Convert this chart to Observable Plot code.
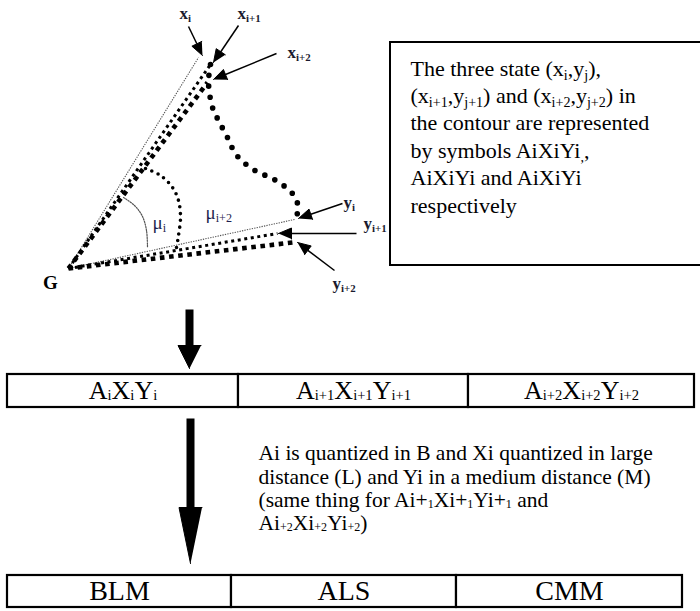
<!DOCTYPE html>
<html>
<head>
<meta charset="utf-8">
<script src="https://cdn.jsdelivr.net/npm/d3@7"></script>
<script src="https://cdn.jsdelivr.net/npm/@observablehq/plot@0.6"></script>
<style>
  html, body { margin: 0; padding: 0; background: #fff; }
  #chart svg { display: block; }
</style>
</head>
<body>
<div id="chart"></div>
<script>
// ---------------- data ----------------
// the centre of gravity from which the rays start
const origin = [{ label: "G", x: 68, y: 268 }];

// end points of the rays drawn from G (weight = line pattern)
const rayEnds = [
  { name: "x_{i}",   x: 198, y: 57,  weight: "thin" },
  { name: "x_{i+1}", x: 210, y: 64,  weight: "medium" },
  { name: "x_{i+2}", x: 207, y: 82,  weight: "bold" },
  { name: "y_{i}",   x: 294, y: 219, weight: "thin" },
  { name: "y_{i+1}", x: 277, y: 233, weight: "medium" },
  { name: "y_{i+2}", x: 292, y: 242, weight: "bold" }
];

// the dotted contour between the x and y points
const contourX = [210, 208, 212, 218, 227, 232, 238, 247, 258, 270, 283, 292, 297, 297, 295];
const contourY = [64, 82, 107, 120, 137, 148, 157, 165, 172, 177, 185, 193, 203, 212, 219];

// angle arcs
const arcMuIX  = [123, 134, 142, 146, 147];
const arcMuIY  = [197, 205, 216, 230, 247];
const arcMuI2X = [145, 160, 172, 178, 180, 178, 176];
const arcMuI2Y = [168, 175, 187, 200, 217, 235, 247];

// pointer arrows: tail (x1,y1) -> tip (x2,y2)
const pointers = [
  { label: "x_{i}",   x1: 188, y1: 26,  x2: 202, y2: 55 },
  { label: "x_{i+1}", x1: 238, y1: 25,  x2: 213, y2: 62 },
  { label: "x_{i+2}", x1: 276, y1: 53,  x2: 213, y2: 79 },
  { label: "y_{i}",   x1: 342, y1: 203, x2: 298, y2: 218 },
  { label: "y_{i+1}", x1: 356, y1: 233, x2: 278, y2: 233 },
  { label: "y_{i+2}", x1: 334, y1: 270, x2: 297, y2: 242 }
];

// labels of the figure
const pointLabels = ["x_{i}", "x_{i+1}", "x_{i+2}", "y_{i}", "y_{i+1}", "y_{i+2}"];
const pointLabelX = [179, 237, 287, 343, 363, 332];
const pointLabelY = [13, 13, 52, 202, 223, 283];
const angleLabels = ["μ_{i}", "μ_{i+2}"];
const angleLabelX = [152, 205];
const angleLabelY = [222, 212];

// explanatory box
const boxLines = [
  "The three state (x_{i},y_{j}),",
  "(x_{i+1},y_{j+1}) and (x_{i+2},y_{j+2}) in",
  "the contour are represented",
  "by symbols AiXiYi_{,},",
  "AiXiYi and AiXiYi",
  "respectively"
];

// first table: the three states
const stateCells = ["A~{i}X~{i}Y~{i}", "A~{i+1}X~{i+1}Y~{i+1}", "A~{i+2}X~{i+2}Y~{i+2}"];
const stateEdges = [7, 238, 468, 694];
const stateTop = 374, stateBottom = 407;

// note between the tables
const noteLines = [
  "Ai is quantized in B and Xi quantized in large",
  "distance (L) and Yi in a medium distance (M)",
  "(same thing for Ai+~{1}Xi+~{1}Yi+~{1} and",
  "Ai~{+2}Xi~{+2}Yi~{+2})"
];

// second table: the quantized codes
const codeCells = ["BLM", "ALS", "CMM"];
const codeEdges = [7, 231, 456, 682];
const codeTop = 575, codeBottom = 607;

// the two big flow arrows (x, start, tip)
const flowX  = [189, 190];
const flowY1 = [309, 418];
const flowY2 = [368, 563];
const flowHead = [23, 56];

// ---------------- derived geometry ----------------
const W = 700, H = 611;
const G = origin[0];

function head(x1, y1, x2, y2, len, half, id) {
  const dx = x2 - x1, dy = y2 - y1, d = Math.hypot(dx, dy);
  const ux = dx / d, uy = dy / d;
  const bx = x2 - ux * len, by = y2 - uy * len;
  return {
    base: { x: bx, y: by },
    tri: [
      { id, x: x2, y: y2 },
      { id, x: bx - uy * half, y: by + ux * half },
      { id, x: bx + uy * half, y: by - ux * half }
    ]
  };
}

const pointerShafts = [], heads = [];
pointers.forEach((p, i) => {
  const h = head(p.x1, p.y1, p.x2, p.y2, 13, 5.5, "p" + i);
  pointerShafts.push({ x1: p.x1, y1: p.y1, x2: h.base.x, y2: h.base.y });
  heads.push(...h.tri);
});
const flowShafts = [];
flowX.forEach((x, i) => {
  const h = head(x, flowY1[i], x, flowY2[i], flowHead[i], 11.5, "f" + i);
  flowShafts.push({ x, y1: flowY1[i], y2: h.base.y + 1 });
  heads.push(...h.tri);
});

const contour = contourX.map((x, i) => ({ x, y: contourY[i] }));
const arcA = arcMuIX.map((x, i) => ({ x, y: arcMuIY[i] }));
const arcB = arcMuI2X.map((x, i) => ({ x, y: arcMuI2Y[i] }));

const cells = (labels, edges, top, bottom) =>
  labels.map((t, i) => ({ t, x1: edges[i], x2: edges[i + 1], y1: top, y2: bottom }));
const stateTable = cells(stateCells, stateEdges, stateTop, stateBottom);
const codeTable = cells(codeCells, codeEdges, codeTop, codeBottom);

const rayStyle = {
  thin:   { stroke: "#555", strokeWidth: 1.1, strokeDasharray: "1.3,1.2" },
  medium: { stroke: "#000", strokeWidth: 3,   strokeDasharray: "3,3.6" },
  bold:   { stroke: "#000", strokeWidth: 4.6, strokeDasharray: "4.6,4.6" }
};

const serif = "'Liberation Serif', 'Times New Roman', Times, serif";

const plot = Plot.plot({
  width: W,
  height: H,
  margin: 0,
  x: { domain: [0, W], axis: null },
  y: { domain: [0, H], reverse: true, axis: null },
  style: { fontFamily: serif, background: "#fff", color: "#000" },
  marks: [
    // rays from G
    ...["thin", "medium", "bold"].map(w =>
      Plot.link(rayEnds.filter(d => d.weight === w), {
        x1: () => G.x, y1: () => G.y, x2: "x", y2: "y", ...rayStyle[w]
      })
    ),
    // contour
    Plot.line(contour, {
      x: "x", y: "y", curve: "catmull-rom", stroke: "#000",
      strokeWidth: 5.6, strokeLinecap: "round", strokeDasharray: "0,11"
    }),
    // angle arcs
    Plot.line(arcA, { x: "x", y: "y", curve: "catmull-rom", stroke: "#555", strokeWidth: 1.2, strokeDasharray: "1.4,1.3" }),
    Plot.line(arcB, { x: "x", y: "y", curve: "catmull-rom", stroke: "#000", strokeWidth: 3.6, strokeLinecap: "round", strokeDasharray: "0,6.8" }),
    // pointer arrow shafts
    Plot.link(pointerShafts, { x1: "x1", y1: "y1", x2: "x2", y2: "y2", stroke: "#000", strokeWidth: 1.5 }),
    // big flow arrow shafts
    Plot.link(flowShafts, { x1: "x", y1: "y1", x2: "x", y2: "y2", stroke: "#000", strokeWidth: 8 }),
    // all arrow heads (filled triangles)
    Plot.line(heads, { x: "x", y: "y", z: "id", fill: "#000", stroke: "#000", strokeWidth: 1, strokeLinejoin: "miter" }),
    // labels
    Plot.text(origin, { x: d => d.x - 18, y: d => d.y + 14, text: "label", fontSize: 19, fontWeight: "bold", textAnchor: "middle" }),
    Plot.text(pointLabels, { x: (d, i) => pointLabelX[i], y: (d, i) => pointLabelY[i], text: d => d, fontSize: 17, fontWeight: "bold", textAnchor: "start", fill: "#1a1a2e" }),
    Plot.text(angleLabels, { x: (d, i) => angleLabelX[i], y: (d, i) => angleLabelY[i], text: d => d, fontSize: 19, textAnchor: "start", fill: "#1f1f4f" }),
    // explanatory box
    Plot.rect([{ x1: 390, x2: 703, y1: 42, y2: 265 }], { x1: "x1", x2: "x2", y1: "y1", y2: "y2", fill: "none", stroke: "#000", strokeWidth: 2 }),
    Plot.text(boxLines, { x: () => 410, y: (d, i) => 68 + i * 27.4, text: d => d, fontSize: 22, textAnchor: "start" }),
    // state table
    Plot.rect(stateTable, { x1: "x1", x2: "x2", y1: "y1", y2: "y2", fill: "#fff", stroke: "#000", strokeWidth: 2.2 }),
    Plot.text(stateTable, { x: d => (d.x1 + d.x2) / 2, y: d => (d.y1 + d.y2) / 2, text: "t", fontSize: 26 }),
    // note
    Plot.text(noteLines, { x: () => 258, y: (d, i) => 453 + i * 23.3, text: d => d, fontSize: 21.5, textAnchor: "start" }),
    // code table
    Plot.rect(codeTable, { x1: "x1", x2: "x2", y1: "y1", y2: "y2", fill: "#fff", stroke: "#000", strokeWidth: 2.2 }),
    Plot.text(codeTable, { x: d => (d.x1 + d.x2) / 2, y: d => (d.y1 + d.y2) / 2, text: "t", fontSize: 28 })
  ]
});

document.getElementById("chart").appendChild(plot);

// turn the _{..} (lowered subscript) and ~{..} (small, on the line) markup into tspans
function richify(root) {
  root.querySelectorAll("text").forEach(t => {
    const s = t.textContent;
    if (!/[_~]\{/.test(s)) return;
    const fs = parseFloat(getComputedStyle(t).fontSize) || 16;
    const parts = [];
    const re = /([_~])\{([^}]*)\}/g;
    let last = 0, m;
    while ((m = re.exec(s))) {
      if (m.index > last) parts.push({ t: s.slice(last, m.index), k: "" });
      parts.push({ t: m[2], k: m[1] });
      last = re.lastIndex;
    }
    if (last < s.length) parts.push({ t: s.slice(last), k: "" });
    while (t.firstChild) t.removeChild(t.firstChild);
    let shift = 0;
    for (const p of parts) {
      const ts = document.createElementNS("http://www.w3.org/2000/svg", "tspan");
      const target = p.k === "_" ? fs * 0.2 : p.k === "~" ? fs * 0.04 : 0;
      if (p.k) ts.setAttribute("font-size", (fs * (p.k === "~" ? 0.56 : 0.64)).toFixed(2));
      const d = target - shift;
      if (Math.abs(d) > 0.001) ts.setAttribute("dy", d.toFixed(2));
      shift = target;
      ts.textContent = p.t;
      t.appendChild(ts);
    }
  });
}
richify(plot);
</script>
</body>
</html>
